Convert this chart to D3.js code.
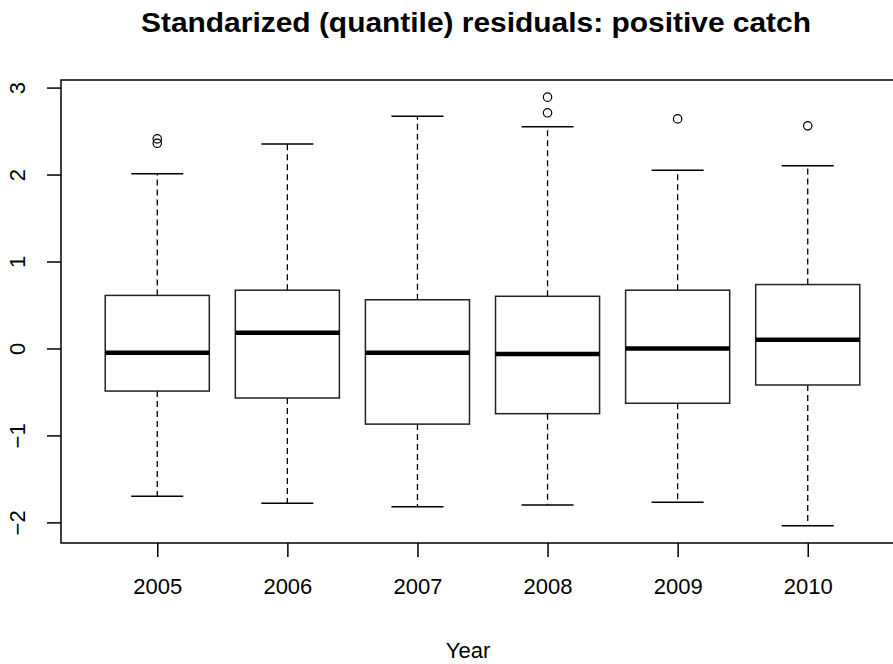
<!DOCTYPE html>
<html>
<head>
<meta charset="utf-8">
<script src="https://cdn.jsdelivr.net/npm/d3@7/dist/d3.min.js"></script>
<style>
  html, body { margin: 0; padding: 0; background: #fff; overflow: hidden; }
  svg { display: block; }
  text { font-family: "Liberation Sans", Arial, Helvetica, sans-serif; fill: #000; }
</style>
</head>
<body>
<script>
// ---- data ----
const years = ["2005", "2006", "2007", "2008", "2009", "2010"];
const lowerWhisker = [-1.70, -1.78, -1.82, -1.80, -1.77, -2.04];
const q1 = [-0.49, -0.57, -0.87, -0.75, -0.63, -0.42];
const medians = [-0.05, 0.18, -0.05, -0.065, 0.0, 0.10];
const q3 = [0.61, 0.67, 0.56, 0.60, 0.67, 0.735];
const upperWhisker = [2.01, 2.35, 2.67, 2.55, 2.05, 2.10];
const outliers = [[2.41, 2.36], [], [], [2.89, 2.71], [2.64], [2.56]];
const yTicks = [-2, -1, 0, 1, 2, 3];
const titleText = "Standarized (quantile) residuals: positive catch";
const xLabel = "Year";

const W = 893, H = 664;
const plot = { left: 61, right: 904, top: 80, bottom: 543 };

const svg = d3.select("body").append("svg").attr("width", W).attr("height", H);
svg.append("rect").attr("width", W).attr("height", H).attr("fill", "#fff");

// R-style scales: x over [0.5, n+0.5] extended by 4%, y over data range extended by 4%
const n = years.length;
const xr = [0.5, n + 0.5];
const xpad = (xr[1] - xr[0]) * 0.04;
const x = d3.scaleLinear().domain([xr[0] - xpad, xr[1] + xpad]).range([plot.left, plot.right]);

const allVals = lowerWhisker.concat(upperWhisker, outliers.flat());
const ymin = d3.min(allVals), ymax = d3.max(allVals);
const ypad = (ymax - ymin) * 0.04;
const y = d3.scaleLinear().domain([ymin - ypad, ymax + ypad]).range([plot.bottom, plot.top]);

const boxHalf = 0.4;   // boxwex 0.8
const capHalf = 0.2;   // staplewex 0.5

const data = years.map((yr, i) => ({
  yr, i: i + 1, lo: lowerWhisker[i], q1: q1[i], med: medians[i], q3: q3[i], hi: upperWhisker[i], out: outliers[i]
}));

const g = svg.append("g");
const box = g.selectAll("g.box").data(data).enter().append("g").attr("class", "box");

// whiskers (dashed)
box.append("line")
  .attr("x1", d => x(d.i)).attr("x2", d => x(d.i))
  .attr("y1", d => y(d.q3)).attr("y2", d => y(d.hi))
  .attr("stroke", "#000").attr("stroke-width", 1.3).attr("stroke-dasharray", "6,4");
box.append("line")
  .attr("x1", d => x(d.i)).attr("x2", d => x(d.i))
  .attr("y1", d => y(d.q1)).attr("y2", d => y(d.lo))
  .attr("stroke", "#000").attr("stroke-width", 1.3).attr("stroke-dasharray", "6,4");
// staples
box.append("line")
  .attr("x1", d => x(d.i - capHalf)).attr("x2", d => x(d.i + capHalf))
  .attr("y1", d => y(d.hi)).attr("y2", d => y(d.hi))
  .attr("stroke", "#000").attr("stroke-width", 1.5);
box.append("line")
  .attr("x1", d => x(d.i - capHalf)).attr("x2", d => x(d.i + capHalf))
  .attr("y1", d => y(d.lo)).attr("y2", d => y(d.lo))
  .attr("stroke", "#000").attr("stroke-width", 1.5);
// box
box.append("rect")
  .attr("x", d => x(d.i - boxHalf)).attr("width", d => x(d.i + boxHalf) - x(d.i - boxHalf))
  .attr("y", d => y(d.q3)).attr("height", d => y(d.q1) - y(d.q3))
  .attr("fill", "#fff").attr("stroke", "#222").attr("stroke-width", 1.5);
// median
box.append("line")
  .attr("x1", d => x(d.i - boxHalf)).attr("x2", d => x(d.i + boxHalf))
  .attr("y1", d => y(d.med)).attr("y2", d => y(d.med))
  .attr("stroke", "#000").attr("stroke-width", 4.5);
// outliers
box.selectAll("circle").data(d => d.out.map(v => ({ i: d.i, v }))).enter().append("circle")
  .attr("cx", d => x(d.i)).attr("cy", d => y(d.v)).attr("r", 4.2)
  .attr("fill", "none").attr("stroke", "#000").attr("stroke-width", 1.2);

// plot frame
svg.append("rect")
  .attr("x", plot.left).attr("y", plot.top)
  .attr("width", plot.right - plot.left).attr("height", plot.bottom - plot.top)
  .attr("fill", "none").attr("stroke", "#000").attr("stroke-width", 1.5);

// x axis
const xAxis = d3.axisBottom(x).tickValues(d3.range(1, n + 1)).tickFormat(d => years[d - 1]).tickSize(14).tickPadding(21);
const xg = svg.append("g").attr("transform", `translate(0,${plot.bottom})`).call(xAxis);
xg.select(".domain").remove();
xg.selectAll(".tick line").attr("stroke", "#000").attr("stroke-width", 1.5);
xg.selectAll(".tick text").attr("font-size", 22).attr("font-family", "'Liberation Sans', Arial, sans-serif").attr("fill", "#222");

// y axis
const yAxis = d3.axisLeft(y).tickValues(yTicks).tickSize(14).tickFormat(d3.format("d"));
const yg = svg.append("g").attr("transform", `translate(${plot.left},0)`).call(yAxis);
yg.select(".domain").remove();
yg.selectAll(".tick line").attr("stroke", "#000").attr("stroke-width", 1.5);
yg.selectAll(".tick text")
  .attr("x", null).attr("dy", null)
  .attr("transform", `translate(${17 - plot.left},0) rotate(-90)`)
  .attr("text-anchor", "middle").attr("dominant-baseline", "central")
  .attr("font-size", 22).attr("font-family", "'Liberation Sans', Arial, sans-serif").attr("fill", "#222");

// title
svg.append("text").attr("x", 476).attr("y", 32).attr("text-anchor", "middle")
  .attr("font-size", 27).attr("font-weight", "bold")
  .attr("textLength", 670).attr("lengthAdjust", "spacingAndGlyphs").text(titleText);

// x label
svg.append("text").attr("x", 468).attr("y", 658).attr("text-anchor", "middle")
  .attr("font-size", 22).attr("fill", "#222").text(xLabel);
</script>
</body>
</html>
